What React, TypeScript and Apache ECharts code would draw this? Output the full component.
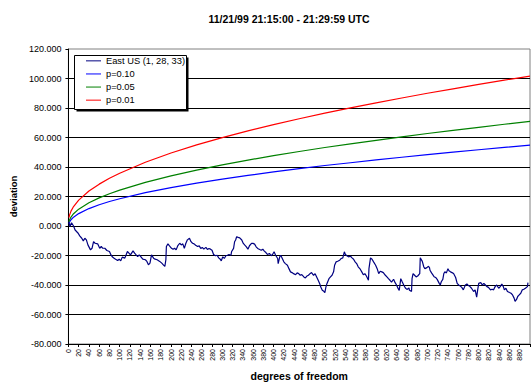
import React, { useEffect, useRef } from "react";
import * as echarts from "echarts";

const titleText = "11/21/99 21:15:00 - 21:29:59 UTC";
const seriesNames = ["East US (1, 28, 33)", "p=0.10", "p=0.05", "p=0.01"];
const seriesColors = ["#000080", "#0000ff", "#008000", "#ff0000"];

// critical-value curves (deviation)
const critDf = [1, 2, 5, 10, 20, 40, 60, 80, 100, 150, 200, 250, 300, 350, 400, 450, 500, 550, 600, 650, 700, 750, 800, 850, 900];
const p10 = [1.71, 2.61, 4.24, 5.99, 8.41, 11.81, 14.4, 16.58, 18.5, 22.6, 26.0, 29.1, 31.8, 34.3, 36.7, 38.9, 41.0, 42.9, 44.8, 46.6, 48.4, 50.1, 51.7, 53.3, 54.8];
const p05 = [2.84, 3.99, 6.07, 8.31, 11.41, 15.76, 19.08, 21.88, 24.34, 29.6, 34.0, 37.9, 41.4, 44.7, 47.7, 50.5, 53.2, 55.7, 58.1, 60.4, 62.7, 64.8, 66.9, 69.0, 70.9];
const p01 = [5.63, 7.21, 10.09, 13.21, 17.57, 23.69, 28.38, 32.33, 35.81, 43.2, 49.5, 55.0, 59.9, 64.5, 68.7, 72.7, 76.5, 80.1, 83.5, 86.8, 90.0, 93.0, 96.0, 98.9, 101.6];

// East US deviation
const eastDf = [
  1, 3, 6, 10, 13, 19, 22, 26, 29, 32, 35, 38, 43, 46, 49, 52, 57, 61, 64, 67,
  71, 75, 80, 83, 86, 89, 92, 96, 99, 102, 105, 110, 115, 118, 121, 126, 129, 132, 135, 138,
  141, 145, 150, 153, 156, 159, 162, 166, 169, 173, 178, 182, 185, 188, 190, 191, 194, 197, 201, 204,
  207, 210, 213, 217, 220, 223, 226, 229, 232, 236, 239, 242, 245, 248, 252, 255,
  258, 261, 264, 268, 271, 274, 277, 280, 283, 287, 290, 293, 296, 298, 301, 304, 307, 310, 313, 317,
  318, 322, 324, 326, 328, 331, 334, 338, 341, 344, 347, 350, 353, 357, 360, 363, 366, 369, 373, 376,
  379, 382, 385, 388, 392, 395, 398, 401, 404, 408, 409, 412, 414, 417, 420, 423, 427, 430, 433, 436,
  439, 443, 446, 449, 452, 455, 459, 462, 465, 468, 471, 474,
  478, 481, 484, 487, 490, 492, 495, 498, 500, 502, 504, 508, 511, 514, 517, 519, 522, 525, 529, 532,
  535, 538, 540, 543, 546, 550, 553, 556, 559, 562, 565, 569, 572, 575, 578, 581, 585, 586, 589, 592,
  595, 599, 602, 605, 608, 611, 614, 618, 621, 624, 627, 630, 634, 637, 640, 643, 645, 648, 651, 654,
  657, 660, 664, 665, 669, 670, 672, 675, 678, 681, 685, 686, 690,
  693, 695, 699, 702, 704, 705, 708, 711, 713, 716, 719, 723, 725, 727, 730, 732, 734, 737, 740, 742,
  745, 748, 751, 755, 758, 761, 764, 767, 770, 774, 777, 780, 783, 786, 790, 793, 796, 798, 800, 804,
  807, 810, 813, 816, 819, 823, 826, 829, 832, 835, 839, 842, 845, 848, 850, 853, 856, 860, 863, 866,
  869, 871, 874, 876, 879, 882, 885, 888, 891, 895, 896,
];
const eastDev = [
  2.5, -0.4, 2.2, 0, -2.7, -4.9, -6.7, -8.3, -10.1, -8.3, -9.4, -12.8, -16.2, -15.1, -10.6, -11.7, -12.1, -15.1, -13.9, -15.1,
  -15.1, -16.6, -17.3, -19.6, -21.1, -21.8, -22.5, -23.4, -22.5, -23.6, -21.1, -21.8, -17.3, -18.4, -19.6, -16.9, -18.4, -19.6, -20.7, -19.6,
  -20.7, -22.5, -22.9, -24, -26.3, -25.2, -19.6, -21.8, -22.5, -22.9, -24, -25.2, -26.3, -27.4, -22.9, -13.9, -12.1, -13.5, -15.1, -15.7,
  -15.1, -16.2, -13.5, -11.7, -12.8, -12.1, -15.1, -11.7, -9.4, -8.3, -10.6, -11.7, -12.1, -13, -13.9, -13.5,
  -15.2, -14.5, -15.7, -14.5, -15.9, -15.2, -15.7, -16.4, -19.3, -20.2, -19.8, -21.6, -22.5, -23.6, -20.9, -22, -20.2, -19.8, -19.3, -19.8,
  -17.5, -15.2, -10.7, -9.5, -7.3, -7.7, -8, -9.5, -11.8, -13, -14.1, -15.7, -13.4, -11.8, -11.8, -12.3, -14.1, -15.2, -15.9, -16.4,
  -15.7, -17, -18, -19.3, -18.6, -20.2, -19.3, -17.5, -19.8, -22, -25.5, -20.9, -19.8, -22, -24.3, -25.5, -26.6, -28.9, -31.1, -31.6,
  -32.3, -33, -31.8, -32.3, -33.4, -33, -34.5, -35.2, -33.9, -33.4, -32.3, -31.6,
  -33.4, -32.3, -34.5, -36.8, -39.1, -41.4, -43.6, -44.3, -45.2, -41.4, -39.1, -35.7, -34.5, -33.4, -31.1, -26.6, -24.3, -23.9, -23.2, -22,
  -21.6, -17.5, -19.3, -20.2, -20.9, -20.5, -21.6, -22.5, -24.3, -25.5, -27.7, -29.3, -31.1, -33, -32.3, -33.9, -36.8, -28.9, -21.6, -22.5,
  -24.3, -26.6, -28.9, -32.3, -30.7, -31.1, -31.6, -33.4, -34.5, -35.7, -36.8, -38, -36.1, -38.4, -40.2, -42.5, -43.6, -35.7, -38, -40.2,
  -42, -43, -42, -43.6, -44.3, -35.7, -32.3, -33.4, -34.5, -33.9, -32.3, -21.6, -24,
  -27.8, -28.9, -28.2, -27.3, -28.2, -30, -31.8, -33.3, -34.4, -34.9, -36.2, -38.9, -40, -37.8, -36.2, -32.2, -31.1, -31.8, -28.9, -30.4,
  -31.1, -31.6, -32.2, -34.9, -38.9, -40, -40.7, -41.6, -43.3, -40, -39.3, -40.4, -41.1, -42.2, -44.4, -43.3, -48.2, -43.3, -38.9, -38.4,
  -40, -38.9, -40, -41.1, -41.6, -43.3, -42.9, -43.3, -41.1, -40, -42.2, -41.1, -39.3, -41.1, -43.3, -42.2, -44.4, -45.1, -45.6, -46.7,
  -48.9, -51.1, -49.6, -47.8, -46.7, -45.6, -43.3, -42.9, -42.2, -41.1, -38.4,
];

const yMin = -80;
const yMax = 120;
const yStep = 20;
const xMin = 0;
const xMax = 900;
const xStep = 20;

const FONT = "'Liberation Sans', Arial, Helvetica, sans-serif";

export default function App() {
  const ref = useRef<HTMLDivElement>(null);

  useEffect(() => {
    if (!ref.current) return;
    const chart = echarts.init(ref.current, undefined, { renderer: "svg" });
    const pairs = (xs: number[], ys: number[]) => xs.map((x, i) => [x, ys[i]]);
    const seriesData = [
      pairs(eastDf, eastDev),
      pairs(critDf, p10),
      pairs(critDf, p05),
      pairs(critDf, p01),
    ];
    chart.setOption({
      animation: false,
      backgroundColor: "#ffffff",
      textStyle: { fontFamily: FONT, color: "#000" },
      title: {
        text: titleText,
        left: 284,
        top: 8,
        textAlign: "center",
        textStyle: { fontSize: 10.5, fontWeight: "bold", color: "#000", fontFamily: FONT },
      },
      graphic: [
        {
          type: "rect",
          z: 1,
          shape: { x: 76.5, y: 57.5, width: 112, height: 54 },
          style: { fill: "#000" },
        },
        {
          type: "rect",
          z: 2,
          shape: { x: 74.5, y: 55.5, width: 112, height: 54 },
          style: { fill: "#fff", stroke: "#000", lineWidth: 1 },
        },
      ],
      legend: {
        orient: "vertical",
        left: 86,
        top: 54.3,
        padding: 0,
        itemGap: 0,
        itemWidth: 15,
        itemHeight: 1,
        icon: "rect",
        z: 10,
        data: seriesNames,
        textStyle: { fontSize: 9.3, lineHeight: 13.1, color: "#000", fontFamily: FONT },
      },
      grid: {
        left: 60,
        right: 2,
        top: 49,
        bottom: 42,
        show: true,
        borderColor: "#808080",
        borderWidth: 1,
        backgroundColor: "transparent",
      },
      xAxis: {
        type: "value",
        min: xMin,
        max: xMax,
        interval: xStep,
        name: "degrees of freedom",
        nameLocation: "middle",
        nameGap: 26,
        nameTextStyle: { fontSize: 10.5, fontWeight: "bold", color: "#000", fontFamily: FONT },
        axisLine: { show: true, onZero: false, lineStyle: { color: "#000", width: 1 } },
        axisTick: { show: true, inside: false, length: 3, lineStyle: { color: "#000" } },
        axisLabel: {
          rotate: 90,
          fontSize: 7,
          margin: 5,
          color: "#000",
          fontFamily: FONT,
          formatter: (v: number) => (v % xStep === 0 && v < xMax ? String(v) : ""),
        },
        splitLine: { show: false },
      },
      yAxis: {
        type: "value",
        min: yMin,
        max: yMax,
        interval: yStep,
        name: "deviation",
        nameLocation: "middle",
        nameGap: 43,
        nameTextStyle: { fontSize: 9.5, fontWeight: "bold", color: "#000", fontFamily: FONT },
        axisLine: { show: true, lineStyle: { color: "#000", width: 1 } },
        axisTick: { show: true, inside: false, length: 3, lineStyle: { color: "#000" } },
        axisLabel: {
          fontSize: 9,
          margin: 7,
          color: "#000",
          fontFamily: FONT,
          formatter: (v: number) => v.toFixed(3),
        },
        splitLine: {
          show: true,
          showMinLine: false,
          showMaxLine: false,
          lineStyle: { color: "#000", width: 1 },
        },
      },
      series: seriesNames.map((name, i) => ({
        name,
        type: "line",
        data: seriesData[i],
        showSymbol: false,
        symbol: "none",
        color: seriesColors[i],
        lineStyle: { color: seriesColors[i], width: 1.2 },
        itemStyle: { color: seriesColors[i] },
        z: i === 0 ? 3 : 2,
      })),
    });
    return () => chart.dispose();
  }, []);

  return (
    <div
      ref={ref}
      style={{ position: "fixed", left: 0, top: 0, width: 532, height: 386, background: "#fff" }}
    />
  );
}
